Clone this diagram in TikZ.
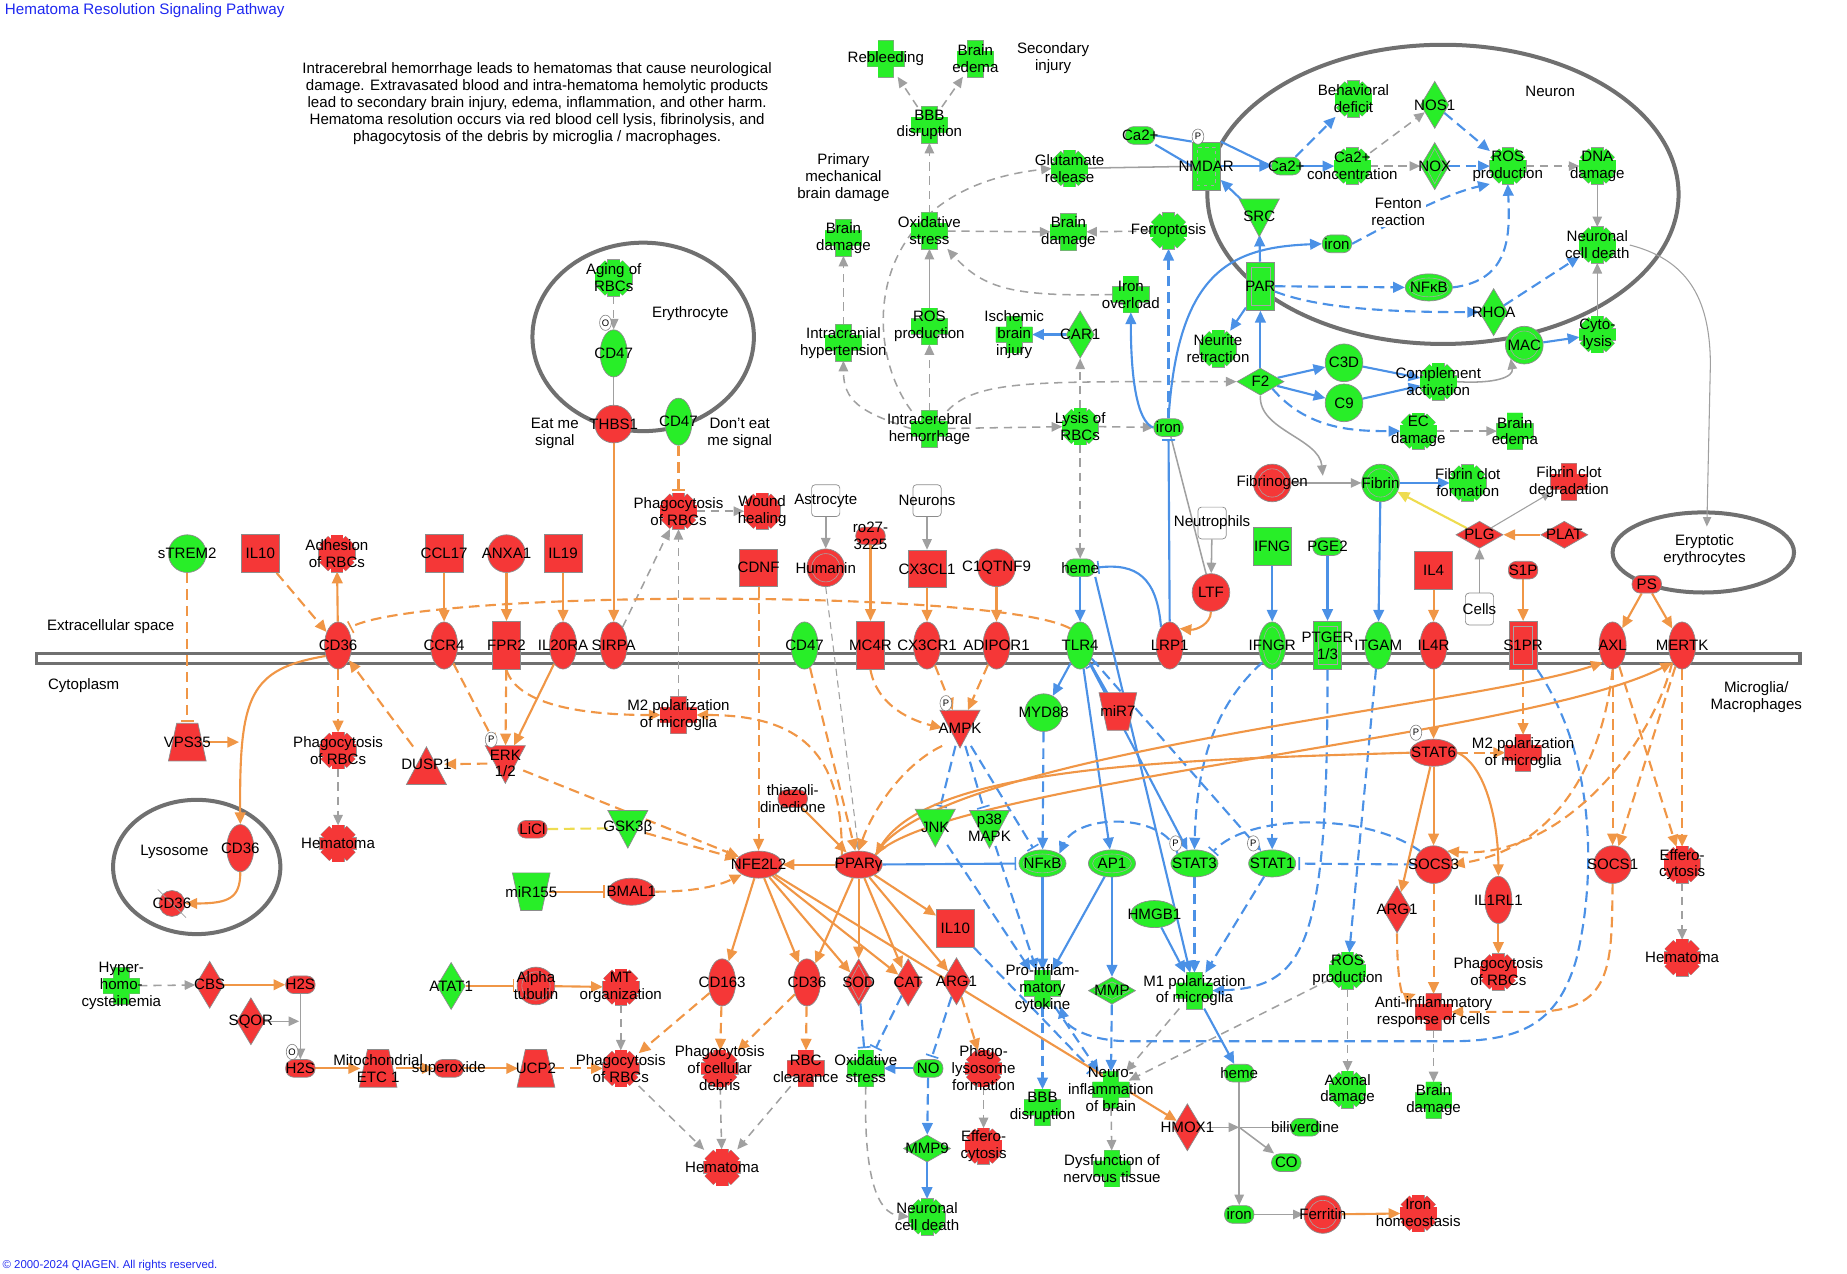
\documentclass[tikz,border=0pt]{standalone}
\usepackage{fontspec}
\setmainfont{Liberation Sans}
\usetikzlibrary{arrows.meta,shapes.geometric,calc}
\pgfdeclarelayer{back}
\pgfdeclarelayer{edges}
\pgfsetlayers{back,edges,main}
\definecolor{gf}{RGB}{40,238,40}
\definecolor{rf}{RGB}{245,55,55}
\definecolor{oline}{RGB}{240,150,70}
\definecolor{bline}{RGB}{75,145,230}
\definecolor{gline}{RGB}{160,160,160}
\definecolor{yline}{RGB}{238,220,80}
\definecolor{cline}{RGB}{112,112,112}
\definecolor{ttl}{RGB}{30,40,240}
\tikzset{
 mol/.style={draw=black!45, line width=.6pt, inner sep=0pt},
 vell/.style={mol, ellipse, minimum width=23pt, minimum height=40pt},
 hell/.style={mol, ellipse, minimum width=40pt, minimum height=23pt},
 circ/.style={mol, circle, minimum size=32pt},
 sqr/.style={mol, rectangle, minimum size=32pt},
 vrect/.style={mol, rectangle, minimum width=24pt, minimum height=41pt},
 chem/.style={mol, rectangle, rounded corners=7pt, minimum width=25pt, minimum height=15pt},
 vdia/.style={mol, diamond, minimum width=24pt, minimum height=40pt},
 hdia/.style={mol, diamond, minimum width=40pt, minimum height=23pt},
 cellb/.style={mol, rectangle, rounded corners=3pt, minimum width=24pt, minimum height=27pt, fill=white},
 inl/.style={draw=black!35, line width=.5pt, inner sep=0pt, fill=none},
 fnb/.style={rectangle, inner sep=0pt, minimum size=30pt},
 txt/.style={font=\fontsize{12.8}{14.3}\selectfont, align=center, inner sep=0pt},
 pann/.style={ellipse, draw=black!50, fill=white, line width=.5pt, inner sep=0pt, minimum width=10pt, minimum height=13pt, font=\fontsize{8}{8}\selectfont},
 compn/.style={ellipse, draw=cline, line width=3.4pt, inner sep=0pt},
 oa/.style={draw=oline, line width=1.8pt, -{Triangle[length=10pt,width=9pt]}},
 oad/.style={oa, dash pattern=on 9pt off 5pt},
 oi/.style={draw=oline, line width=1.8pt, -{Bar[width=11pt,line width=1.4pt]}, shorten >=2pt},
 oid/.style={oi, dash pattern=on 9pt off 5pt},
 ba/.style={draw=bline, line width=1.8pt, -{Triangle[length=10pt,width=9pt]}},
 bad/.style={ba, dash pattern=on 9pt off 5pt},
 bl/.style={draw=bline, line width=1.8pt},
 bi/.style={draw=bline, line width=1.8pt, -{Bar[width=11pt,line width=1.4pt]}, shorten >=2pt},
 bid/.style={bi, dash pattern=on 9pt off 5pt},
 ga/.style={draw=gline, line width=1.3pt, -{Triangle[length=9pt,width=8pt]}},
 gad/.style={ga, dash pattern=on 7pt off 5pt},
 gl/.style={draw=gline, line width=1.3pt},
 gath/.style={draw=gline, line width=.9pt, -{Triangle[length=8pt,width=7pt]}},
 gadth/.style={gath, dash pattern=on 6pt off 4pt},
 ya/.style={draw=yline, line width=1.8pt, -{Triangle[length=10pt,width=9pt]}},
 yd/.style={draw=yline, line width=1.8pt, dash pattern=on 9pt off 5pt},
}
\newcommand{\Mol}[5]{\node[#1] (#2) at (#3,#4) {}; \node[txt] (#2-t) at (#3,#4) {#5};}
\newcommand{\Dbl}[6]{\node[#1] (#3) at (#4,#5) {}; \node[inl,#2] (#3-in) at (#4,#5) {}; \node[txt] (#3-t) at (#4,#5) {#6};}
\newcommand{\Crs}[5]{%
 \filldraw[fill=#1,draw=black!40,line width=.6pt,shift={(#3,#4)}] (-6.5,-15.5) rectangle (6.5,15.5) (-15.5,-6.5) rectangle (15.5,6.5);
 \fill[#1,shift={(#3,#4)}] (-6.5,-15.5) rectangle (6.5,15.5) (-15.5,-6.5) rectangle (15.5,6.5);
 \node[fnb] (#2) at (#3,#4) {}; \node[txt] (#2-t) at (#3,#4) {#5};}
\newcommand{\Gear}[5]{%
 \begin{scope}[shift={(#3,#4)}]
  \foreach \gAng in {0,45,90,135}{\filldraw[fill=#1,draw=black!40,line width=.6pt,rotate=\gAng] (-5,-15.5) rectangle (5,15.5);}
  \filldraw[fill=#1,draw=black!40,line width=.6pt] (0,0) circle (12);
  \foreach \gAng in {0,45,90,135}{\fill[#1,rotate=\gAng] (-5,-15.5) rectangle (5,15.5);}
  \fill[#1] (0,0) circle (12);
 \end{scope}
 \node[fnb] (#2) at (#3,#4) {}; \node[txt] (#2-t) at (#3,#4) {#5};}
\newcommand{\TriD}[5]{\filldraw[fill=#1,draw=black!45,line width=.6pt,shift={(#3,#4)}] (-17,-15) -- (17,-15) -- (0,17) -- cycle;
 \node[fnb] (#2) at (#3,#4) {}; \node[txt] (#2-t) at (#3,#4) {#5};}
\newcommand{\TriU}[5]{\filldraw[fill=#1,draw=black!45,line width=.6pt,shift={(#3,#4)}] (-17,17) -- (17,17) -- (0,-15) -- cycle;
 \node[fnb] (#2) at (#3,#4) {}; \node[txt] (#2-t) at (#3,#4) {#5};}
\newcommand{\TrapB}[5]{\filldraw[fill=#1,draw=black!45,line width=.6pt,shift={(#3,#4)}] (-16,16) -- (16,16) -- (9,-16) -- (-9,-16) -- cycle;
 \node[fnb] (#2) at (#3,#4) {}; \node[txt] (#2-t) at (#3,#4) {#5};}
\newcommand{\TrapT}[5]{\filldraw[fill=#1,draw=black!45,line width=.6pt,shift={(#3,#4)}] (-16,-16) -- (16,-16) -- (9,16) -- (-9,16) -- cycle;
 \node[fnb] (#2) at (#3,#4) {}; \node[txt] (#2-t) at (#3,#4) {#5};}
\begin{document}
\begin{tikzpicture}[x=1pt,y=-1pt]
\path[use as bounding box] (0,0) rectangle (1568,1081);
% ---------- compartments ----------
\begin{pgfonlayer}{back}
\node[draw=cline, line width=2.8pt, fill=white, minimum width=1497pt, minimum height=8.5pt, inner sep=0pt] (membrane) at (779.5,559.3) {};
\node[compn, minimum width=188pt, minimum height=160pt] (erythro) at (546,286) {};
\node[compn, minimum width=400pt, minimum height=254pt] (neuron) at (1225,165) {};
\node[compn, minimum width=142pt, minimum height=114pt] (lysosome) at (167,736) {};
\node[compn, minimum width=154pt, minimum height=68pt] (eryp) at (1446,469) {};
\end{pgfonlayer}
% ---------- texts ----------
\node[anchor=west, text=ttl, font=\fontsize{12.9}{14}\selectfont, inner sep=0pt] (title) at (4,9) {Hematoma Resolution Signaling Pathway};
\node[anchor=west, text=ttl, font=\fontsize{9.7}{10}\selectfont, inner sep=0pt] (copyr) at (2,1074) {© 2000-2024 QIAGEN. All rights reserved.};
\node[txt] (desc) at (456,88) {Intracerebral hemorrhage leads to hematomas that cause neurological\\damage. Extravasated blood and intra-hematoma hemolytic products\\lead to secondary brain injury, edema, inflammation, and other harm.\\Hematoma resolution occurs via red blood cell lysis, fibrinolysis, and\\phagocytosis of the debris by microglia / macrophages.};
\node[txt] (extra) at (94,532) {Extracellular space};
\node[txt] (cytopl) at (71,582) {Cytoplasm};
\node[txt] (microg) at (1491,592) {Microglia/\\Macrophages};
\node[txt] (lysolbl) at (148,723) {Lysosome};
\node[txt] (erylbl) at (586,266) {Erythrocyte};
\node[txt] (eryplbl) at (1447,467) {Eryptotic\\erythrocytes};
\node[txt] (neuronlbl) at (1316,78) {Neuron};
\node[txt] (secinj) at (894,49) {Secondary\\injury};
\node[txt] (primary) at (716,151) {Primary\\mechanical\\brain damage};
\node[txt] (eatme) at (471,368) {Eat me\\signal};
\node[txt] (donteat) at (628,368) {Don't eat\\me signal};
% ---------- top nodes ----------
\Crs{gf}{rebl}{752}{50}{Rebleeding}
\Crs{gf}{bedm1}{828}{50}{Brain\\edema}
\Crs{gf}{bbb1}{789}{106}{BBB\\disruption}
\Crs{gf}{bdam1}{716}{202}{Brain\\damage}
\Crs{gf}{ich}{716}{291}{Intracranial\\hypertension}
\Crs{gf}{oxs1}{789}{196}{Oxidative\\stress}
\Crs{gf}{ros1}{789}{277}{ROS\\production}
\Crs{gf}{icer}{789}{364}{Intracerebral\\hemorrhage}
\Gear{gf}{glut}{908}{143}{Glutamate\\release}
\Crs{gf}{bdam2}{907}{197}{Brain\\damage}
\Gear{gf}{ferro}{992}{196}{Ferroptosis}
\Crs{gf}{iovl}{960}{250}{Iron\\overload}
\Crs{gf}{isch}{861}{284}{Ischemic\\brain\\injury}
\Mol{vdia,fill=gf}{car1}{917}{284}{CAR1}
\Gear{gf}{lysis}{917}{362}{Lysis of\\RBCs}
\Mol{chem,fill=gf}{iron1}{992}{363}{iron}
\Mol{chem,fill=gf}{ca1}{968}{115}{Ca2+}
\Dbl{vrect,fill=gf}{rectangle,dashed,minimum width=16pt,minimum height=32pt}{nmdar}{1024}{141}{NMDAR}
\node[pann] (pnm) at (1017,116) {P};
\Mol{chem,fill=gf}{ca2}{1092}{141}{Ca2+}
\Gear{gf}{cacon}{1148}{141}{Ca2+\\concentration}
\Gear{gf}{behav}{1149}{84}{Behavioral\\deficit}
\Mol{vdia,fill=gf}{nos1}{1218}{89}{NOS1}
\Dbl{vdia,fill=gf}{diamond,minimum width=16pt,minimum height=30pt}{nox}{1218}{141}{NOX}
\Gear{gf}{ros2}{1280}{141}{ROS\\production}
\Gear{gf}{dna}{1356}{141}{DNA\\damage}
\TriD{gf}{src}{1069}{184}{SRC}
\Mol{chem,fill=gf}{iron2}{1135}{207}{iron}
\node[txt, fill=white, inner sep=1pt] (fenton) at (1187,180) {Fenton\\reaction};
\Gear{gf}{ncd1}{1356}{208}{Neuronal\\cell death}
\Dbl{vrect,fill=gf}{rectangle,minimum width=16pt,minimum height=32pt}{par}{1070}{243}{PAR}
\Dbl{hell,fill=gf}{ellipse,minimum width=33pt,minimum height=16pt}{nfkb1}{1213}{244}{NFκB}
\Mol{vdia,fill=gf}{rhoa}{1268}{265}{RHOA}
\Dbl{circ,fill=gf}{circle,minimum size=24pt}{mac}{1294}{293}{MAC}
\Gear{gf}{cyto}{1356}{284}{Cyto-\\lysis}
\Gear{gf}{neurite}{1034}{296}{Neurite\\retraction}
\Mol{hdia,fill=gf}{f2}{1070}{324}{F2}
\Mol{circ,fill=gf}{c3d}{1141}{308}{C3D}
\Mol{circ,fill=gf}{c9}{1141}{342}{C9}
\Gear{gf}{compl}{1221}{324}{Complement\\activation}
\Gear{gf}{ecd}{1204}{366}{EC\\damage}
\Crs{gf}{bedm2}{1286}{366}{Brain\\edema}
\Dbl{circ,fill=rf}{circle,minimum size=24pt}{fibgn}{1080}{410}{Fibrinogen}
\Dbl{circ,fill=gf}{circle,minimum size=24pt}{fibrin}{1172}{410}{Fibrin}
\Gear{gf}{fcf}{1246}{410}{Fibrin clot\\formation}
\Crs{rf}{fcd}{1332}{409}{Fibrin clot\\degradation}
\Mol{hdia,fill=rf}{plg}{1256}{454}{PLG}
\Mol{hdia,fill=rf}{plat}{1328}{454}{PLAT}
\Mol{cellb}{cells}{1256}{517}{Cells}
\Mol{chem,fill=rf}{ps}{1398}{496}{PS}
% ---------- erythrocyte & extracellular ----------
\Gear{gf}{aging}{521}{236}{Aging of\\RBCs}
\node[pann] (o1) at (514,274) {O};
\Mol{vell,fill=gf}{cd47a}{521}{300}{CD47}
\Mol{circ,fill=rf}{thbs1}{521}{360}{THBS1}
\Mol{vell,fill=gf}{cd47b}{576}{358}{CD47}
\Gear{rf}{phag1}{576}{434}{Phagocytosis\\of RBCs}
\Gear{rf}{wound}{647}{434}{Wound\\healing}
\Mol{cellb}{astro}{701}{425}{Astrocyte}
\Mol{cellb}{neurons}{787}{425}{Neurons}
\Mol{chem,fill=rf}{ro27}{739}{455}{ro27-\\3225}
\Mol{sqr,fill=rf}{cdnf}{644}{482}{CDNF}
\Dbl{circ,fill=rf}{circle,minimum size=24pt}{humanin}{701}{482}{Humanin}
\Mol{sqr,fill=rf}{cx3cl1}{787}{483}{CX3CL1}
\Mol{circ,fill=rf}{c1q}{846}{482}{C1QTNF9}
\Mol{circ,fill=gf}{strem2}{159}{470}{sTREM2}
\Mol{sqr,fill=rf}{il10a}{221}{470}{IL10}
\Gear{rf}{adh}{286}{470}{Adhesion\\of RBCs}
\Mol{sqr,fill=rf}{ccl17}{377}{470}{CCL17}
\Mol{circ,fill=rf}{anxa1}{430}{470}{ANXA1}
\Mol{sqr,fill=rf}{il19}{478}{470}{IL19}
\Mol{chem,fill=gf}{heme1}{917}{482}{heme}
\Mol{cellb}{neutro}{1029}{444}{Neutrophils}
\Mol{circ,fill=rf}{ltf}{1028}{503}{LTF}
\Mol{sqr,fill=gf}{ifng}{1080}{464}{IFNG}
\Mol{chem,fill=gf}{pge2}{1127}{464}{PGE2}
\Mol{sqr,fill=rf}{il4}{1217}{484}{IL4}
\Mol{chem,fill=rf}{s1p}{1293}{484}{S1P}
% ---------- membrane ----------
\Mol{vell,fill=rf}{cd36a}{287}{548}{CD36}
\Mol{vell,fill=rf}{ccr4}{377}{548}{CCR4}
\Mol{vrect,fill=rf}{fpr2}{430}{548}{FPR2}
\Mol{vell,fill=rf}{il20ra}{478}{548}{IL20RA}
\Mol{vell,fill=rf}{sirpa}{521}{548}{SIRPA}
\Mol{vell,fill=gf}{cd47c}{683}{548}{CD47}
\Mol{vrect,fill=rf}{mc4r}{739}{548}{MC4R}
\Mol{vell,fill=rf}{cx3cr1}{787}{548}{CX3CR1}
\Mol{vell,fill=rf}{adipor1}{846}{548}{ADIPOR1}
\Mol{vell,fill=gf}{tlr4}{917}{548}{TLR4}
\Mol{vell,fill=rf}{lrp1}{993}{548}{LRP1}
\Dbl{vell,fill=gf}{ellipse,minimum width=15pt,minimum height=32pt}{ifngr}{1080}{548}{IFNGR}
\Dbl{vrect,fill=gf}{rectangle,minimum width=16pt,minimum height=32pt}{ptger}{1127}{548}{PTGER\\1/3}
\Mol{vell,fill=gf}{itgam}{1170}{548}{ITGAM}
\Mol{vell,fill=rf}{il4r}{1217}{548}{IL4R}
\Dbl{vrect,fill=rf}{rectangle,minimum width=16pt,minimum height=32pt}{s1pr}{1293}{548}{S1PR}
\Mol{vell,fill=rf}{axl}{1369}{548}{AXL}
\Mol{vell,fill=rf}{mertk}{1428}{548}{MERTK}
% ---------- cytoplasm ----------
\TrapB{rf}{vps35}{159}{630}{VPS35}
\Gear{rf}{phag2}{287}{637}{Phagocytosis\\of RBCs}
\TriU{rf}{dusp1}{362}{649}{DUSP1}
\TriD{rf}{erk}{429}{648}{ERK\\1/2}
\node[pann] (perk) at (417,628) {P};
\Crs{rf}{m2a}{576}{607}{M2 polarization\\of microglia}
\TriD{rf}{ampk}{815}{618}{AMPK}
\node[pann] (pampk) at (803,597) {P};
\Mol{circ,fill=gf}{myd88}{886}{605}{MYD88}
\TrapT{rf}{mir7}{949}{604}{miR7}
\Gear{rf}{hema1}{287}{716}{Hematoma}
\Mol{vell,fill=rf}{cd36b}{204}{720}{CD36}
\node[circ, fill=rf, minimum size=22pt] (cd36c) at (146,767) {};
\draw[draw=gline, line width=.6pt] ($(cd36c)+(-12,-12)$) -- ($(cd36c)+(12,12)$);
\node[txt] (cd36c-t) at (cd36c) {CD36};
\Mol{chem,fill=rf}{lici}{452}{704}{LiCl}
\TriD{gf}{gsk}{533}{703}{GSK3β}
\Mol{chem,fill=rf}{thiaz}{673}{678}{thiazoli-\\dinedione}
\TriD{gf}{jnk}{794}{702}{JNK}
\TriD{gf}{p38}{840}{703}{p38\\MAPK}
\Mol{hell,fill=rf}{nfe2l2}{644}{734}{NFE2L2}
\Mol{hell,fill=rf}{pparg}{729}{734}{PPARγ}
\TrapT{gf}{mir155}{451}{757}{miR155}
\Mol{hell,fill=rf}{bmal1}{536}{757}{BMAL1}
\Dbl{hell,fill=gf}{ellipse,minimum width=33pt,minimum height=16pt}{nfkb2}{885}{733}{NFκB}
\Dbl{hell,fill=gf}{ellipse,minimum width=33pt,minimum height=16pt}{ap1}{944}{733}{AP1}
\Mol{hell,fill=gf}{stat3}{1014}{733}{STAT3}
\node[pann] (pstat3) at (998,716) {P};
\Mol{hell,fill=gf}{stat1}{1080}{733}{STAT1}
\node[pann] (pstat1) at (1064,716) {P};
\Mol{hell,fill=gf}{hmgb1}{980}{776}{HMGB1}
\Mol{hell,fill=rf}{stat6}{1217}{639}{STAT6}
\node[pann] (pstat6) at (1202,622) {P};
\Crs{rf}{m2b}{1293}{639}{M2 polarization\\of microglia}
\Mol{circ,fill=rf}{socs3}{1217}{734}{SOCS3}
\Mol{vdia,fill=rf}{arg1b}{1186}{772}{ARG1}
\Mol{vell,fill=rf}{il1rl1}{1272}{764}{IL1RL1}
\Mol{circ,fill=rf}{socs1}{1369}{734}{SOCS1}
\Gear{rf}{effero1}{1428}{734}{Effero-\\cytosis}
\Gear{rf}{hema3}{1428}{813}{Hematoma}
\Gear{rf}{phag5}{1272}{825}{Phagocytosis\\of RBCs}
\Crs{rf}{antiinf}{1217}{859}{Anti-inflammatory\\response of cells}
\Crs{gf}{bdam3}{1217}{934}{Brain\\damage}
\Gear{gf}{ros3}{1144}{824}{ROS\\production}
\Gear{gf}{axon}{1144}{925}{Axonal\\damage}
\Mol{sqr,fill=rf}{il10b}{811}{788}{IL10}
\Mol{vdia,fill=rf}{arg1a}{812}{833}{ARG1}
\Crs{gf}{proinf}{885}{839}{Pro-inflam-\\matory\\cytokine}
\Dbl{hdia,fill=gf}{diamond,minimum width=30pt,minimum height=15pt}{mmp}{944}{841}{MMP}
\Crs{gf}{m1}{1014}{841}{M1 polarization\\of microglia}
\Mol{vell,fill=rf}{cd163}{613}{834}{CD163}
\Mol{vell,fill=rf}{cd36d}{685}{834}{CD36}
\Dbl{vdia,fill=rf}{diamond,minimum width=16pt,minimum height=30pt}{sod}{729}{834}{SOD}
\Mol{vdia,fill=rf}{cat}{771}{834}{CAT}
\Crs{gf}{hyper}{103}{837}{Hyper-\\homo-\\cysteinemia}
\Mol{vdia,fill=rf}{cbs}{178}{836}{CBS}
\Mol{chem,fill=rf}{h2s1}{255}{836}{H2S}
\Mol{vdia,fill=rf}{sqor}{213}{867}{SQOR}
\node[pann] (o2) at (248,893) {O};
\Mol{chem,fill=rf}{h2s2}{255}{907}{H2S}
\TrapB{rf}{metc}{321}{907}{Mitochondrial\\ETC 1}
\Mol{chem,fill=rf}{superox}{381}{907}{superoxide}
\TrapB{rf}{ucp2}{455}{907}{UCP2}
\Mol{vdia,fill=gf}{atat1}{383}{837}{ATAT1}
\Dbl{circ,fill=rf}{circle,minimum size=24pt}{alpha}{455}{837}{Alpha\\tubulin}
\Gear{rf}{mtorg}{527}{838}{MT\\organization}
\Gear{rf}{phag3}{527}{907}{Phagocytosis\\of RBCs}
\Gear{rf}{phag4}{611}{907}{Phagocytosis\\of cellular\\debris}
\Crs{rf}{rbcc}{684}{907}{RBC\\clearance}
\Crs{gf}{oxs2}{735}{907}{Oxidative\\stress}
\Mol{chem,fill=gf}{no}{788}{907}{NO}
\Gear{rf}{phagly}{835}{907}{Phago-\\lysosome\\formation}
\Crs{gf}{bbb2}{885}{940}{BBB\\disruption}
\Crs{gf}{neuroinf}{943}{925}{Neuro-\\inflammation\\of brain}
\Mol{chem,fill=gf}{heme2}{1052}{911}{heme}
\Mol{vdia,fill=rf}{hmox1}{1008}{957}{HMOX1}
\coordinate (junc) at (1052,957);
\Mol{chem,fill=gf}{bili}{1108}{957}{biliverdine}
\Mol{chem,fill=gf}{co}{1092}{987}{CO}
\Gear{rf}{hema2}{613}{991}{Hematoma}
\Mol{hdia,fill=gf}{mmp9}{787}{975}{MMP9}
\Gear{rf}{effero2}{835}{973}{Effero-\\cytosis}
\Crs{gf}{dysf}{944}{992}{Dysfunction of\\nervous tissue}
\Gear{gf}{ncd2}{787}{1033}{Neuronal\\cell death}
\Mol{chem,fill=gf}{iron3}{1052}{1031}{iron}
\Dbl{circ,fill=rf}{circle,minimum size=24pt}{ferritin}{1123}{1031}{Ferritin}
\Gear{rf}{ironh}{1204}{1030}{Iron\\homeostasis}
\coordinate (erypin) at (1449,447);
\coordinate (fibmid) at (1123,404);
\coordinate (sqj) at (254,867);
\coordinate (lysj) at (203,630);
% ---------- edges ----------
\begin{pgfonlayer}{edges}
% gray
\draw[gad] (bbb1) -- (rebl);
\draw[gad] (bbb1) -- (bedm1);
\draw[gad] (oxs1) -- (bbb1);
\draw[gad] (icer.north west) .. controls (730,290) and (735,160) .. (glut.west);
\draw[gad] (oxs1) -- (bdam2);
\draw[gad] (ferro) -- (bdam2);
\draw[gad] (iovl.west) .. controls (860,252) and (835,245) .. (oxs1.south east);
\draw[ga] (ros1) -- (oxs1);
\draw[gad] (icer) -- (ros1);
\draw[gad] (icer.west) .. controls (730,350) and (716,340) .. (ich.south);
\draw[gad] (ich) -- (bdam1);
\draw[gad] (icer) -- (lysis);
\draw[gad] (icer.north east) .. controls (830,322) and (880,324) .. (f2.west);
\draw[gad] (lysis) -- (iron1);
\draw[gad] (lysis) -- (car1);
\draw[gad] (lysis) -- (heme1);
\draw[gl] (glut) -- (nmdar);
\draw[gad] (cacon) -- (nos1);
\draw[gad] (cacon) -- (nox);
\draw[gad] (ros2) -- (dna);
\draw[ga] (dna) -- (ncd1);
\draw[ga] (cyto) -- (ncd1);
\draw[ga] (compl.east) .. controls (1270,326) and (1285,320) .. (mac.south west);
\draw[gad] (ecd) -- (bedm2);
\draw[gath] (ncd1-t.east) .. controls (1430,220) and (1452,250) .. (1452,310) -- (erypin);
\draw[ga] (f2.south) .. controls (1068,365) and (1120,372) .. (fibmid);
\draw[ga] (fibgn) -- (fibrin);
\draw[gl] (iron1) -- (ltf);
\draw[ga] (neutro) -- (ltf);
\draw[ga] (astro) -- (humanin);
\draw[ga] (neurons) -- (cx3cl1);
\draw[ga] (cells) -- (plg);
\draw[gath] (plg) -- (fcd);
\draw[gadth] (humanin.south) -- (pparg.north);
\draw[gad] (phag1) -- (wound);
\draw[gad] (sirpa) -- (phag1);
\draw[gad] (m2a) -- (phag1);
\draw[gad] (aging) -- (cd47a);
\draw[gl] (cd47a) -- (thbs1);
\draw[gad] (phag2) -- (hema1);
\draw[gad] (hyper) -- (cbs);
\draw[ga] (h2s1) -- (h2s2);
\draw[ga] (sqor) -- (sqj);
\draw[gad] (mtorg) -- (phag3);
\draw[gad] (phag3) -- (hema2);
\draw[gad] (phag4) -- (hema2);
\draw[gad] (rbcc) -- (hema2);
\draw[gad] (oxs2.south) .. controls (733,1000) and (745,1030) .. (ncd2.west);
\draw[gad] (phagly) -- (effero2);
\draw[gad] (m1) -- (neuroinf);
\draw[gad] (ros3) -- (neuroinf);
\draw[gad] (ros3) -- (axon);
\draw[gad] (neuroinf) -- (dysf);
\draw[ga] (hmox1) -- (junc);
\draw[ga] (heme2) -- (iron3);
\draw[gl] (junc) -- (bili);
\draw[ga] (junc) -- (co);
\draw[ga] (iron3) -- (ferritin);
\draw[gad] (antiinf) -- (bdam3);
\draw[gad] (effero1) -- (hema3);
% blue
\draw[bl] (ca1.east) -- (nmdar.north west);
\draw[bl] (ca1.south east) -- (nmdar.west);
\draw[ba] (nmdar.east) -- (ca2.west);
\draw[bl] (nmdar.north east) -- (ca2.west);
\draw[ba] (ca2) -- (cacon);
\draw[bad] (ca2) -- (behav);
\draw[bad] (nos1) -- (ros2);
\draw[bad] (nox) -- (ros2);
\draw[bad] (iron2.east) .. controls (1180,190) and (1225,165) .. (ros2.south west);
\draw[ba] (src) -- (nmdar);
\draw[ba] (par) -- (src);
\draw[ba] (par) -- (neurite);
\draw[bad] (par.east) -- (nfkb1.west);
\draw[bad] (par.-20) .. controls (1120,262) and (1180,265) .. (rhoa.west);
\draw[bad] (nfkb1.east) .. controls (1282,238) and (1282,200) .. (ros2.south);
\draw[bad] (rhoa) -- (ncd1);
\draw[ba] (mac) -- (cyto);
\draw[ba] (f2) -- (par);
\draw[ba] (f2) -- (c3d);
\draw[ba] (f2) -- (c9);
\draw[ba] (c3d) -- (compl);
\draw[ba] (c9) -- (compl);
\draw[bad] (f2.south east) .. controls (1110,365) and (1150,366) .. (ecd.west);
\draw[ba] (car1) -- (isch);
\draw[ba] (iron1.west) .. controls (965,358) and (960,320) .. (iovl.south);
\draw[bad] (iron1) -- (ferro);
\draw[ba] (iron1.north) .. controls (1000,230) and (1045,210) .. (iron2.west);
\draw[bi] (lrp1.north) -- (iron1.south);
\draw[bi] (lrp1.115) .. controls (982,490) and (965,478) .. (heme1.east);
\draw[ba] (heme1) -- (tlr4);
\draw[ba] (heme1.south east) -- (m1);
\draw[ba] (fibrin) -- (fcf);
\draw[ba] (fibrin) -- (itgam);
\draw[ya] (plg) -- (fibrin);
\draw[ba] (ifng) -- (ifngr);
\draw[ba] (pge2) -- (ptger);
\draw[bad] (ifngr) -- (stat1);
\draw[bad] (ifngr.south west) .. controls (1030,600) and (1016,650) .. (stat3.north);
\draw[bad] (ptger.south) .. controls (1127,800) and (1110,838) .. (m1.east);
\draw[bad] (itgam) -- (ros3);
\draw[ba] (tlr4) -- (myd88);
\draw[bad] (myd88) -- (nfkb2);
\draw[ba] (tlr4) -- (ap1);
\draw[bad] (tlr4) -- (stat1);
\draw[ba] (tlr4) -- (stat3);
\draw[bi] (mir7) -- (tlr4);
\draw[bad] (stat3.north west) .. controls (990,690) and (915,690) .. (nfkb2.north east);
\draw[bid] (socs3.north west) .. controls (1160,690) and (1060,690) .. (stat3.north east);
\draw[ba] (nfkb2) -- (proinf);
\draw[ba] (ap1) -- (proinf);
\draw[ba] (ap1) -- (mmp);
\draw[bad] (mmp) -- (neuroinf);
\draw[bad] (stat3) -- (m1);
\draw[bad] (stat1) -- (m1);
\draw[ba] (hmgb1) -- (m1);
\draw[ba] (m1) -- (heme2);
\draw[bi] (pparg) -- (nfkb2);
\draw[bid] (socs3) -- (stat1);
\draw[bid] (ampk) -- (jnk);
\draw[bid] (ampk) -- (p38);
\draw[bid] (ampk) -- (nfkb2);
\draw[bad] (jnk) -- (proinf);
\draw[bad] (p38) -- (proinf);
\draw[bad] (proinf) -- (bbb2);
\draw[bad] (proinf) -- (neuroinf);
\draw[bid] (il10b) -- (neuroinf);
\draw[bid] (arg1a) -- (no);
\draw[ba] (no) -- (oxs2);
\draw[bad] (no) -- (mmp9);
\draw[ba] (mmp9) -- (ncd2);
\draw[bid] (sod) -- (oxs2);
\draw[bid] (cat) -- (oxs2);
\draw[bad] (s1pr.south east) .. controls (1360,650) and (1352,760) .. (1338,815) .. controls (1322,870) and (1290,884) .. (1230,884) -- (960,884) .. controls (925,884) and (905,872) .. (proinf.south east);
% orange
\draw[oid] (strem2) -- (vps35);
\draw[oa] (vps35) -- (lysj);
\draw[oa] (cd36a.220) .. controls (212,568) and (203,590) .. (cd36b.north);
\draw[oa] (cd36b.south) .. controls (204,762) and (195,767) .. (cd36c.east);
\draw[oad] (il10a) -- (cd36a);
\draw[oa] (cd36a) -- (adh);
\draw[oad] (cd36a) -- (phag2);
\draw[oad] (dusp1) -- (cd36a);
\draw[oad] (erk) -- (dusp1);
\draw[oid] (tlr4.north west) .. controls (850,500) and (360,500) .. (cd36a.north east);
\draw[oa] (ccl17) -- (ccr4);
\draw[oad] (ccr4) -- (erk);
\draw[oa] (anxa1) -- (fpr2);
\draw[oad] (fpr2) -- (erk);
\draw[oad] (fpr2.south) .. controls (440,600) and (500,607) .. (m2a.west);
\draw[oa] (il19) -- (il20ra);
\draw[oa] (il20ra) -- (erk);
\draw[oa] (thbs1) -- (sirpa);
\draw[oid] (cd47b) -- (phag1);
\draw[oad] (erk) -- (nfe2l2);
\draw[oad] (gsk) -- (nfe2l2);
\draw[yd] (lici) -- (gsk);
\draw[oad] (cdnf) -- (nfe2l2);
\draw[oa] (thiaz) -- (pparg);
\draw[oad] (cd47c) -- (pparg);
\draw[oa] (ro27) -- (mc4r);
\draw[oad] (mc4r.south) .. controls (745,600) and (775,612) .. (ampk.west);
\draw[oad] (ampk.south west) .. controls (765,650) and (740,690) .. (pparg.north);
\draw[oad] (pparg.north west) .. controls (715,650) and (690,607) .. (m2a.east);
\draw[oa] (cx3cl1) -- (cx3cr1);
\draw[oad] (cx3cr1) -- (ampk);
\draw[oa] (c1q) -- (adipor1);
\draw[oad] (adipor1) -- (ampk);
\draw[oa] (pparg) -- (nfe2l2);
\draw[oad] (bmal1.east) .. controls (590,757) and (610,752) .. (nfe2l2.south west);
\draw[oi] (mir155) -- (bmal1);
\draw[oa] (nfe2l2) -- (cd163);
\draw[oa] (nfe2l2) -- (cd36d);
\draw[oa] (nfe2l2) -- (sod);
\draw[oa] (nfe2l2) -- (cat);
\draw[oa] (nfe2l2) -- (hmox1);
\draw[oa] (pparg) -- (cd36d);
\draw[oa] (pparg) -- (sod);
\draw[oa] (pparg) -- (cat);
\draw[oa] (pparg) -- (il10b);
\draw[oa] (pparg) -- (arg1a);
\draw[oa] (pparg.north east) .. controls (790,640) and (1250,600) .. (axl.south west);
\draw[oa] (pparg.north east) .. controls (800,665) and (1300,625) .. (mertk.south west);
\draw[oa] (stat6.west) .. controls (1000,645) and (790,650) .. (pparg.north east);
\draw[oad] (cd163) -- (phag3);
\draw[oad] (cd163) -- (phag4);
\draw[oad] (cd36d) -- (phag4);
\draw[oad] (cd36d) -- (rbcc);
\draw[oad] (arg1a) -- (phagly);
\draw[oi] (atat1) -- (alpha);
\draw[oa] (alpha) -- (mtorg);
\draw[oa] (cbs) -- (h2s1);
\draw[oa] (h2s2) -- (metc);
\draw[oa] (metc) -- (superox);
\draw[oa] (superox) -- (ucp2);
\draw[oad] (ucp2) -- (phag3);
\draw[oa] (ferritin) -- (ironh);
\draw[oa] (ltf.south) .. controls (1028,530) and (1015,535) .. (lrp1.north east);
\draw[oa] (il4) -- (il4r);
\draw[oa] (il4r) -- (stat6);
\draw[oa] (s1p) -- (s1pr);
\draw[oad] (s1pr) -- (m2b);
\draw[oad] (stat6) -- (m2b);
\draw[oa] (stat6) -- (socs3);
\draw[oa] (stat6) -- (arg1b);
\draw[oa] (stat6.east) .. controls (1262,650) and (1272,700) .. (il1rl1.north);
\draw[oa] (il1rl1) -- (phag5);
\draw[oad] (socs3) -- (antiinf);
\draw[oad] (arg1b.south) .. controls (1186,830) and (1190,848) .. (antiinf.north west);
\draw[oad] (socs1.south) .. controls (1368,820) and (1370,859) .. (1300,859) -- (antiinf.east);
\draw[oad] (axl.south) .. controls (1360,650) and (1320,720) .. (socs3.east);
\draw[oad] (mertk.south west) .. controls (1400,640) and (1320,730) .. (socs3.north east);
\draw[oad] (axl) -- (socs1);
\draw[oad] (mertk) -- (socs1);
\draw[oad] (axl) -- (effero1);
\draw[oad] (mertk) -- (effero1);
\draw[oa] (ps) -- (axl);
\draw[oa] (ps) -- (mertk);
\draw[oa] (plat) -- (plg);
\end{pgfonlayer}
\end{tikzpicture}
\end{document}
